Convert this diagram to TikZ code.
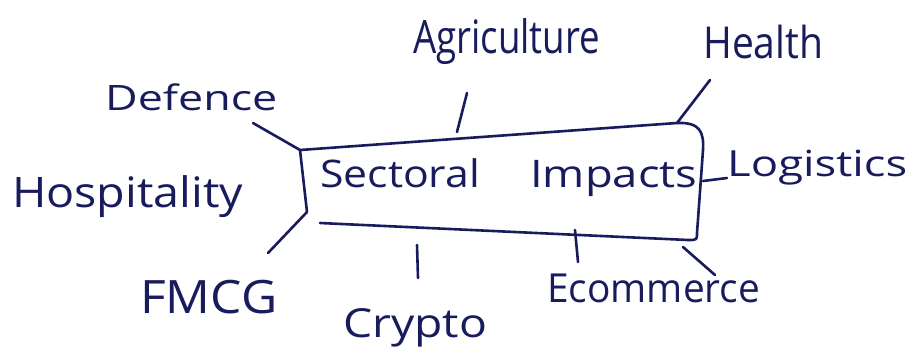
\documentclass[tikz,border=0pt]{standalone}
\usepackage{fontspec}
\usepackage{graphicx}
\setmainfont{Open Sans}
\definecolor{ink}{RGB}{24,28,92}
% handwritten-style word: font size, target width, text
\newcommand{\hw}[3]{\fontsize{#1}{#1}\selectfont\resizebox{#2}{\height}{#3}}
\tikzset{
  pen/.style={draw=ink, line width=2.6pt, line cap=round, line join=round},
  word/.style={inner sep=0pt, anchor=base west, text=ink},
}
\begin{document}
\begin{tikzpicture}[x=1pt, y=-1pt]
  \useasboundingbox[fill=white] (0,0) rectangle (915,360);

  % outline of the central box (open at the lower left)
  \coordinate (bl) at (307,212);
  \coordinate (tl) at (300,150);
  \coordinate (tr) at (677,123);
  \coordinate (rt) at (703,150);
  \coordinate (rb) at (697,233);
  \coordinate (br) at (688,240);
  \coordinate (lb) at (320,223);
  \draw[pen] (bl) -- (tl) -- (tr) .. controls (700,122) and (704,132) .. (rt)
             -- (rb) .. controls (697,240) .. (br) -- (lb);

  % title inside the box
  \node[word] (title) at (320,187)
    {\hw{38}{160pt}{Sectoral}\hspace{50pt}\hw{38}{167pt}{Impacts}};

  % sector labels
  \node[word] (def)  at (105,110) {\hw{35}{172pt}{Defence}};
  \node[word] (agr)  at (413,53)  {\hw{46}{187pt}{Agriculture}};
  \node[word] (hea)  at (703,58)  {\hw{44}{120pt}{Health}};
  \node[word] (hos)  at (12,207)  {\hw{42}{231pt}{Hospitality}};
  \node[word] (fmcg) at (140,313) {\hw{46}{137pt}{FMCG}};
  \node[word] (cry)  at (343,337) {\hw{40}{144pt}{Crypto}};
  \node[word] (eco)  at (547,302) {\hw{40}{213pt}{Ecommerce}};
  \node[word] (log)  at (727,176) {\hw{36}{180pt}{Logistics}};

  % spokes from the box towards the labels
  \coordinate (defEnd) at (253,123);
  \coordinate (hosEnd) at (268,253);
  \coordinate (agrA) at (467,93);   \coordinate (agrB) at (457,132);
  \coordinate (heaEnd) at (710,80);
  \coordinate (logA) at (703,181);  \coordinate (logB) at (727,178);
  \coordinate (cryA) at (417,245);  \coordinate (cryB) at (418,278);
  \coordinate (ecoA) at (575,230);  \coordinate (ecoB) at (578,262);
  \coordinate (brA) at (683,247);   \coordinate (brB) at (715,275);

  \draw[pen] (defEnd) -- (tl);
  \draw[pen] (hosEnd) -- (bl);
  \draw[pen] (agrA) -- (agrB);
  \draw[pen] (heaEnd) -- (tr);
  \draw[pen] (logA) -- (logB);
  \draw[pen] (cryA) -- (cryB);
  \draw[pen] (ecoA) -- (ecoB);
  \draw[pen] (brA) -- (brB);
\end{tikzpicture}
\end{document}
